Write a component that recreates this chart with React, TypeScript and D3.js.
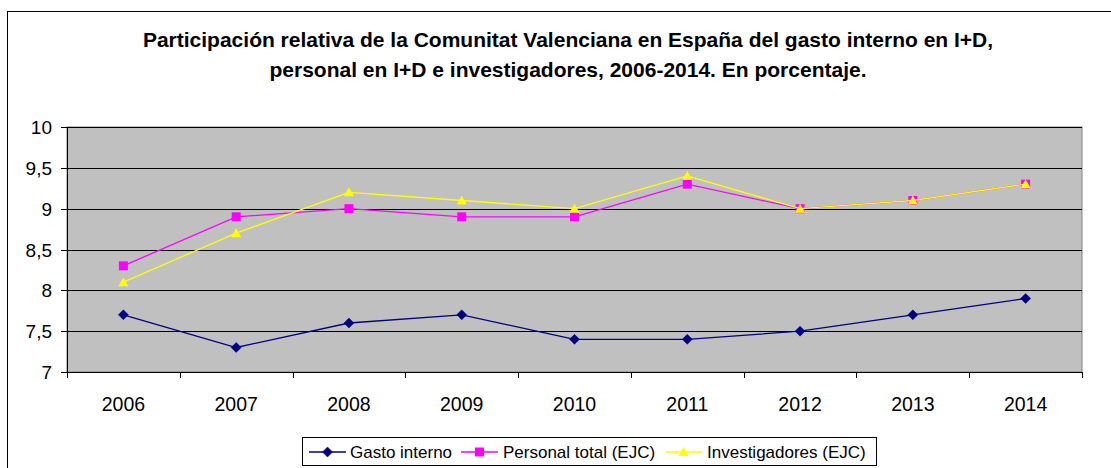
import React from "react";
import * as d3 from "d3";

const years = ["2006", "2007", "2008", "2009", "2010", "2011", "2012", "2013", "2014"];
const gastoInterno = [7.7, 7.3, 7.6, 7.7, 7.4, 7.4, 7.5, 7.7, 7.9];
const personalTotal = [8.3, 8.9, 9.0, 8.9, 8.9, 9.3, 9.0, 9.1, 9.3];
const investigadores = [8.1, 8.7, 9.2, 9.1, 9.0, 9.4, 9.0, 9.1, 9.3];
const yTicks = [7, 7.5, 8, 8.5, 9, 9.5, 10];
const titleLines = [
  "Participación relativa de la Comunitat Valenciana en España del gasto interno en I+D,",
  "personal en I+D e investigadores, 2006-2014. En porcentaje.",
];
const seriesNames = ["Gasto interno", "Personal total (EJC)", "Investigadores (EJC)"];

const W = 1111, H = 468;
const plot = { left: 67, right: 1082, top: 127, bottom: 372 };
const FONT = "'Liberation Sans', Arial, sans-serif";

function Marker({ type, x, y, color }: { type: string; x: number; y: number; color: string }) {
  if (type === "diamond") {
    const s = 5;
    return <path d={`M${x},${y - s}L${x + s},${y}L${x},${y + s}L${x - s},${y}Z`} fill={color} stroke={color} strokeWidth={0.5} />;
  }
  if (type === "square") {
    const s = 4.5;
    return <rect x={x - s} y={y - s} width={2 * s} height={2 * s} fill={color} />;
  }
  const s = 5;
  return <path d={`M${x},${y - s}L${x + s},${y + s - 1}L${x - s},${y + s - 1}Z`} fill={color} />;
}

export default function App() {
  const x = d3.scaleBand().domain(years).range([plot.left, plot.right]);
  const y = d3.scaleLinear().domain([7, 10]).range([plot.bottom, plot.top]);
  const cx = (yr: string) => (x(yr) as number) + x.bandwidth() / 2;

  const series = [
    { name: seriesNames[0], values: gastoInterno, color: "#000080", marker: "diamond" },
    { name: seriesNames[1], values: personalTotal, color: "#FF00FF", marker: "square" },
    { name: seriesNames[2], values: investigadores, color: "#FFFF00", marker: "triangle" },
  ];

  const line = d3
    .line<number>()
    .x((_, i) => cx(years[i]))
    .y((d) => y(d));

  const legendItems = [
    { lx: 309, tx: 350 },
    { lx: 461, tx: 503 },
    { lx: 665, tx: 707 },
  ];

  return (
    <svg width={W} height={H} style={{ position: "absolute", left: 0, top: 0 }} fontFamily={FONT}>
      <rect x={0} y={0} width={W} height={H} fill="#fff" />
      <rect x={7.5} y={11.5} width={W + 10} height={H + 10} fill="none" stroke="#000" strokeWidth={1} />
      {titleLines.map((t, i) => (
        <text key={i} x={568} y={47 + i * 30} textAnchor="middle" fontWeight="bold" fontSize={21} fill="#000">
          {t}
        </text>
      ))}
      <rect x={plot.left} y={plot.top} width={plot.right - plot.left} height={plot.bottom - plot.top} fill="#C0C0C0" stroke="#808080" strokeWidth={1} />
      {yTicks.map((t) => (
        <g key={t}>
          <line x1={plot.left} x2={plot.right} y1={Math.round(y(t)) + 0.5} y2={Math.round(y(t)) + 0.5} stroke="#000" strokeWidth={1} />
          <line x1={plot.left - 6} x2={plot.left} y1={Math.round(y(t)) + 0.5} y2={Math.round(y(t)) + 0.5} stroke="#000" strokeWidth={1} />
          <text x={52} y={y(t) + 7} textAnchor="end" fontSize={19} fill="#000">
            {String(t).replace(".", ",")}
          </text>
        </g>
      ))}
      <line x1={plot.left + 0.5} x2={plot.left + 0.5} y1={plot.top} y2={plot.bottom + 6} stroke="#000" strokeWidth={1} />
      <line x1={plot.left} x2={plot.right} y1={plot.bottom + 0.5} y2={plot.bottom + 0.5} stroke="#000" strokeWidth={1} />
      {years.map((yr) => (
        <g key={yr}>
          <line x1={Math.round((x(yr) as number) + x.bandwidth()) + 0.5} x2={Math.round((x(yr) as number) + x.bandwidth()) + 0.5} y1={plot.bottom} y2={plot.bottom + 6} stroke="#000" strokeWidth={1} />
          <text x={cx(yr)} y={411} textAnchor="middle" fontSize={19.5} fill="#000">
            {yr}
          </text>
        </g>
      ))}
      {series.map((s) => (
        <g key={s.name}>
          <path d={line(s.values) || ""} fill="none" stroke={s.color} strokeWidth={1.3} />
          {s.values.map((v, i) => (
            <Marker key={i} type={s.marker} x={cx(years[i])} y={y(v)} color={s.color} />
          ))}
        </g>
      ))}
      <rect x={302.5} y={437.5} width={574} height={28} fill="#fff" stroke="#000" strokeWidth={1} />
      {series.map((s, i) => (
        <g key={s.name}>
          <line x1={legendItems[i].lx} x2={legendItems[i].lx + 37} y1={452} y2={452} stroke={s.color} strokeWidth={1.3} />
          <Marker type={s.marker} x={legendItems[i].lx + 18.5} y={452} color={s.color} />
          <text x={legendItems[i].tx} y={458} fontSize={17} fill="#000">
            {s.name}
          </text>
        </g>
      ))}
    </svg>
  );
}
